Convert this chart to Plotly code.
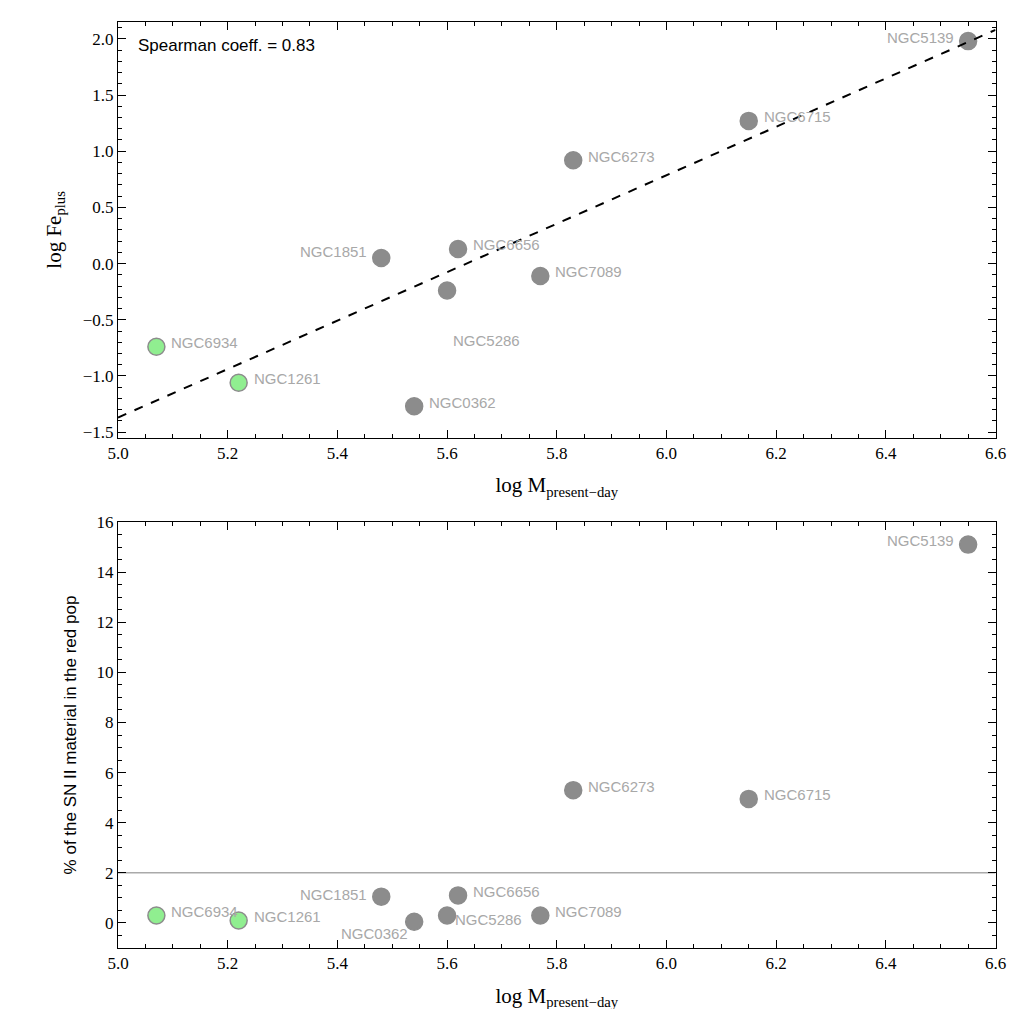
import plotly.graph_objects as go

names = ["NGC6934", "NGC1261", "NGC1851", "NGC0362", "NGC5286", "NGC6656",
         "NGC7089", "NGC6273", "NGC6715", "NGC5139"]
log_mass = [5.07, 5.22, 5.48, 5.54, 5.60, 5.62, 5.77, 5.83, 6.15, 6.55]
log_fe_plus = [-0.74, -1.06, 0.05, -1.27, -0.24, 0.13, -0.11, 0.92, 1.27, 1.98]
pct_sn2 = [0.3, 0.1, 1.05, 0.05, 0.3, 1.1, 0.3, 5.3, 4.95, 15.1]
green = ["NGC6934", "NGC1261"]
fit_x = [5.0, 6.6]
fit_y = [-1.37, 2.08]

# label offsets in pixels (dx, dy), anchor
top_off = {"NGC1851": (-12, 6, "right"), "NGC5286": (4, -50, "left"),
           "NGC5139": (-12, 4, "right")}
bot_off = {"NGC1851": (-12, 2, "right"), "NGC0362": (-4, -12, "right"),
           "NGC5286": (6, -4, "left"), "NGC5139": (-12, 4, "right")}

grey = "#8c8c8c"
lab = "#a8a8a8"
colors = ["#90ee90" if n in green else grey for n in names]

fig = go.Figure()
for yv, ya in [(log_fe_plus, "y"), (pct_sn2, "y2")]:
    fig.add_trace(go.Scatter(
        x=log_mass, y=yv, mode="markers", yaxis=ya,
        xaxis="x" if ya == "y" else "x2",
        marker=dict(size=17, color=colors, line=dict(color=grey, width=1.5)),
        showlegend=False))

fig.add_trace(go.Scatter(x=fit_x, y=fit_y, mode="lines",
                         line=dict(color="black", dash="dash", width=2),
                         showlegend=False))
fig.add_trace(go.Scatter(x=[5.0, 6.6], y=[2, 2], mode="lines", xaxis="x2", yaxis="y2",
                         line=dict(color="#aaaaaa", width=1.5), showlegend=False))

ann = []
for i, n in enumerate(names):
    for yv, off, ax in [(log_fe_plus, top_off, ("x", "y")), (pct_sn2, bot_off, ("x2", "y2"))]:
        dx, dy, anc = off.get(n, (13, 4, "left"))
        ann.append(dict(x=log_mass[i], y=yv[i], xref=ax[0], yref=ax[1], text=n,
                        showarrow=False, xanchor=anc, xshift=dx, yshift=dy,
                        font=dict(size=15, color=lab, family="Liberation Sans")))
ann.append(dict(x=0.02, y=0.97, xref="x domain", yref="y domain", text="Spearman coeff. = 0.83",
                showarrow=False, xanchor="left", yanchor="top",
                font=dict(size=17, color="black", family="Liberation Sans")))

axis_common = dict(showline=True, linecolor="black", linewidth=1, mirror="ticks",
                   ticks="inside", ticklen=8, tickcolor="black", showgrid=False,
                   zeroline=False, minor=dict(ticks="inside", ticklen=4, tickcolor="black"),
                   tickfont=dict(family="Liberation Serif", size=17, color="black"))
xt = dict(range=[5.0, 6.6], dtick=0.2, tickformat=".1f", domain=[0, 0.986],
          minor=dict(ticks="inside", ticklen=4, tickcolor="black", dtick=0.05))
xtitle = dict(text="log M<sub>present−day</sub>",
              font=dict(family="Liberation Serif", size=21, color="black"))

fig.update_layout(
    width=1016, height=1009, plot_bgcolor="white", paper_bgcolor="white",
    margin=dict(l=110, r=5, t=5, b=69),
    xaxis={**axis_common, **xt, "anchor": "y", "title": xtitle},
    yaxis={**axis_common, "domain": [0.551, 1], "range": [-1.55, 2.15], "dtick": 0.5,
           "tickformat": ".1f",
           "minor": dict(ticks="inside", ticklen=4, tickcolor="black", dtick=0.1),
           "title": dict(text="log Fe<sub>plus</sub>",
                         font=dict(family="Liberation Serif", size=21, color="black"))},
    xaxis2={**axis_common, **xt, "anchor": "y2", "title": xtitle},
    yaxis2={**axis_common, "domain": [0, 0.46], "range": [-1, 16], "dtick": 2,
            "minor": dict(ticks="inside", ticklen=4, tickcolor="black", dtick=0.5),
            "title": dict(text="% of the SN II material in the red pop",
                          font=dict(family="Liberation Sans", size=17, color="black"))},
    annotations=ann,
)
fig.write_html("out.html")
